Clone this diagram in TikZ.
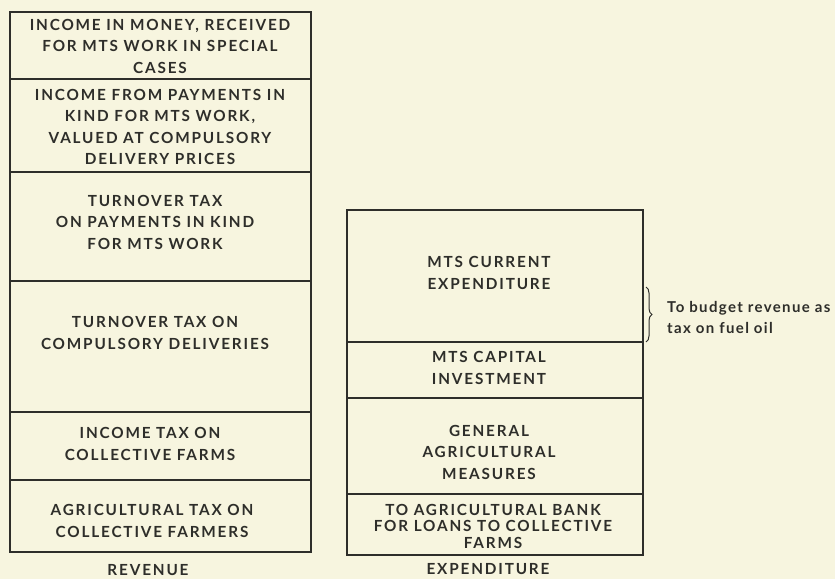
\documentclass[tikz,border=0pt]{standalone}
\usepackage{fontspec}
\setmainfont{Lato}[LetterSpace=12]
\newfontfamily\notefont{Lato}[LetterSpace=9]
\usetikzlibrary{decorations.pathreplacing}
\definecolor{paper}{HTML}{F7F5DF}
\definecolor{ink}{HTML}{2E2E2A}
\tikzset{
  cell/.style={draw=ink, line width=1.2pt},
  lbl/.style={align=center, text=ink, font=\bfseries\fontsize{15.3}{21.5}\selectfont, inner sep=0pt},
  smalllbl/.style={align=center, text=ink, font=\bfseries\fontsize{15.3}{16.5}\selectfont, inner sep=0pt},
  note/.style={align=left, anchor=west, text=ink, font=\notefont\bfseries\fontsize{15}{21}\selectfont, inner sep=0pt}
}
\begin{document}
\begin{tikzpicture}[x=1pt,y=-1pt]
\fill[paper] (0,0) rectangle (835,579);
\useasboundingbox (0,0) rectangle (835,579);
% revenue column
\draw[cell] (10,12) rectangle (311,552);
\foreach \y in {79,172,281,412,480} \draw[cell] (10,\y) -- (311,\y);
\node[lbl] (r1) at (160,46) {INCOME IN MONEY, RECEIVED\\FOR MTS WORK IN SPECIAL\\CASES};
\node[lbl] (r2) at (160,127) {INCOME FROM PAYMENTS IN\\KIND FOR MTS WORK,\\VALUED AT COMPULSORY\\DELIVERY PRICES};
\node[lbl] (r3) at (155,222) {TURNOVER TAX\\ON PAYMENTS IN KIND\\FOR MTS WORK};
\node[lbl] (r4) at (155,333) {TURNOVER TAX ON\\COMPULSORY DELIVERIES};
\node[lbl] (r5) at (150,444) {INCOME TAX ON\\COLLECTIVE FARMS};
\node[lbl] (r6) at (152,521) {AGRICULTURAL TAX ON\\COLLECTIVE FARMERS};
\node[lbl] (rev) at (148,570) {REVENUE};
% expenditure column
\draw[cell] (347,210) rectangle (643,555);
\foreach \y in {342,398,494} \draw[cell] (347,\y) -- (643,\y);
\node[lbl] (e1) at (489,273) {MTS CURRENT\\EXPENDITURE};
\node[lbl] (e2) at (489,368) {MTS CAPITAL\\INVESTMENT};
\node[lbl] (e3) at (489,452) {GENERAL\\AGRICULTURAL\\MEASURES};
\node[smalllbl] (e4) at (493,526) {TO AGRICULTURAL BANK\\FOR LOANS TO COLLECTIVE\\FARMS};
\node[lbl] (exp) at (488,569) {EXPENDITURE};
% brace and note
\coordinate (bt) at (646,287);
\coordinate (bb) at (646,342);
\draw[ink, line width=1pt, decorate, decoration={brace, amplitude=6pt}] (bt) -- (bb);
\node[note] (n) at (667,317) {To budget revenue as\\tax on fuel oil};
\end{tikzpicture}
\end{document}
